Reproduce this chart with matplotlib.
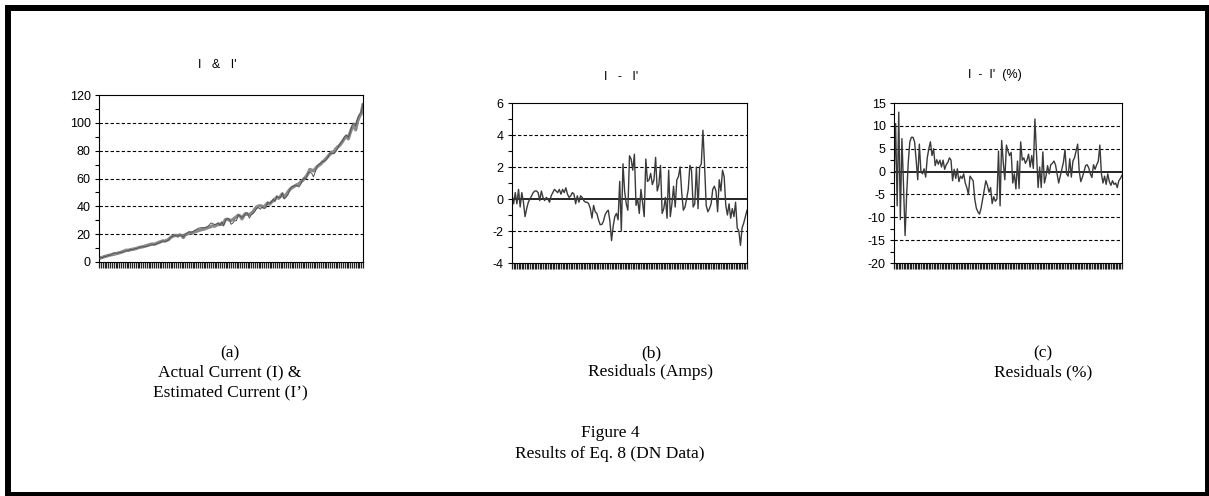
import numpy as np
import matplotlib.pyplot as plt
from matplotlib.patches import Rectangle

# actual current I (amps), one value per sample
current = [
    2.5, 3.0, 3.4, 3.9, 4.3, 4.6, 5.0, 5.3, 5.5, 5.9,
    6.2, 6.6, 7.0, 7.5, 8.0, 8.5, 8.4, 8.8, 9.1, 9.3,
    9.6, 10.0, 10.5, 10.7, 11.0, 11.4, 11.8, 12.2, 12.6, 13.0,
    12.7, 13.2, 13.8, 14.3, 14.8, 15.2, 15.0, 15.6, 16.2, 17.5,
    18.5, 18.8, 19.2, 18.6, 19.4, 19.1, 17.6, 19.5, 20.1, 20.6,
    21.0, 20.8, 21.6, 22.0, 22.5, 22.9, 23.3, 23.6, 24.0, 24.5,
    25.0, 25.4, 26.0, 25.7, 26.4, 26.9, 27.3, 27.0, 28.0, 30.5,
    30.8, 30.2, 29.8, 30.5, 31.5, 32.5, 33.6, 33.0, 31.0, 33.5,
    34.8, 34.2, 34.0, 34.9, 36.0, 38.0, 39.5, 40.2, 40.5, 40.0,
    39.4, 41.0, 42.3, 41.5, 43.0, 44.0, 45.2, 46.5, 45.8, 47.2,
    49.0, 46.5, 48.0, 50.2, 52.0, 53.2, 54.0, 54.8, 55.5, 56.0,
    57.5, 58.5, 60.0, 61.5, 63.5, 66.5, 66.0, 65.5, 67.0, 68.5,
    69.5, 70.5, 72.0, 73.0, 74.5, 76.0, 77.5, 79.0, 78.5, 81.0,
    82.5, 83.5, 85.0, 87.0, 89.0, 90.5, 88.5, 93.0, 96.5, 98.0,
    95.0, 101.0, 104.5, 106.5, 113.0,
]

# residuals I - I' (amps)
resid_amps = [
    0.3, -0.3, 0.4, -0.3, 0.6, -0.5, 0.4, -0.2, -1.1, -0.6,
    -0.2, 0.0, 0.2, 0.4, 0.5, 0.5, 0.4, -0.1, 0.5, 0.1,
    -0.1, 0.1, 0.0, -0.2, 0.2, 0.4, 0.6, 0.5, 0.4, 0.6,
    0.3, 0.6, 0.4, 0.7, 0.3, 0.1, 0.2, 0.4, 0.3, -0.3,
    0.2, -0.2, 0.2, 0.1, -0.1, -0.2, -0.2, -0.3, -0.6, -1.2,
    -0.4, -0.8, -0.9, -1.3, -1.6, -1.6, -1.4, -1.0, -0.8, -0.7,
    -1.4, -2.6, -1.7, -1.1, -0.9, -1.3, 1.1, -2.0, 2.2, 0.5,
    -0.3, -0.7, 2.7, 2.5, 1.8, 2.8, -0.4, 0.0, -0.9, 0.6,
    -0.2, -1.1, 2.5, 1.1, 1.2, 1.6, 0.9, 1.2, 2.6, 0.5,
    0.9, 2.1, -0.9, -0.6, 0.1, -1.2, 1.8, -1.1, -0.3, 0.8,
    -0.5, 1.2, 1.4, 2.0, 0.4, -0.7, -0.5, 0.0, 0.6, 2.1,
    1.8, -0.5, -0.3, 2.0, -0.6, 2.0, 2.2, 4.3, 2.1, -0.4,
    -0.8, -0.6, -0.3, 0.6, 0.8, 0.5, -0.8, 1.2, 0.5, 1.8,
    1.4, -0.4, -1.0, -0.3, -1.2, -0.6, -1.1, -0.2, -1.8, -2.0,
    -2.9, -1.8, -1.5, -1.1, -0.7,
]

# residuals in percent
resid_pct = [
    -2.0, 10.5, -7.5, 13.0, -10.5, 7.2, -3.0, -14.0, -5.0, 2.0,
    6.5, 7.5, 7.5, 6.5, 2.5, -1.8, 6.0, 0.0, -0.5, 0.6,
    -1.2, 3.0, 5.0, 6.5, 3.5, 5.0, 1.3, 2.6, 1.6, 2.5,
    1.0, 2.5, 0.5, 1.5, 2.0, 3.0, 2.5, -2.0, 0.5, -1.5,
    0.6, -2.2, -1.0, -1.5, -0.5, -2.5, -3.5, -5.0, -1.0, -1.5,
    -2.0, -6.0, -8.0, -8.8, -9.3, -8.0, -6.0, -4.0, -2.0, -3.0,
    -4.5, -3.5, -7.0, -5.5, -6.5, -6.0, 4.5, -7.5, 6.8, 2.0,
    -1.8, 5.8, 4.5, 3.5, 4.2, -2.5, -0.5, -3.8, 2.3, -3.7,
    6.5, 2.5, 3.0, 1.8, 2.5, 3.8, 1.0, 3.5, 0.7, 11.5,
    4.0, -3.5, 1.0, -3.5, 4.3, -2.5, -1.0, 1.3, -0.5, 1.5,
    1.8, 2.3, 1.5, -0.5, -2.5, -1.0, 0.5, 2.0, 4.8, -0.5,
    -1.0, 2.8, -1.2, 2.3, 3.0, 4.5, 6.0, 0.0, -2.2, -1.2,
    0.0, 1.3, 1.5, 0.8, -0.5, -1.3, 1.5, 0.5, 1.5, 2.2,
    5.8, -0.5, -2.5, -1.0, -2.8, -0.5, -2.2, -3.0, -2.0, -2.8,
    -2.5, -3.5, -2.0, -1.5, -0.8,
]

panel_titles = ["I   &   I'", "I   -   I'", "I  -  I'  (%)"]
panel_letters = ["(a)", "(b)", "(c)"]
panel_captions = ["Actual Current (I) &\nEstimated Current (I\u2019)",
                  "Residuals (Amps)", "Residuals (%)"]
fig_title = "Figure 4\nResults of Eq. 8 (DN Data)"

W, H = 1209, 496
SANS = "Liberation Sans"
SERIF = "Liberation Serif"


def box(l, t, r, b):
    return [l / W, 1 - b / H, (r - l) / W, (b - t) / H]


def setup(ax, ymin, ymax, step, n):
    ax.set_xlim(0, n - 1)
    ax.set_ylim(ymin, ymax)
    major = np.arange(ymin, ymax + step / 2, step)
    ax.set_yticks(major)
    ax.set_yticks(major[:-1] + step / 2, minor=True)
    ax.set_yticklabels([f"{v:g}" for v in major], fontfamily=SANS, fontsize=9)
    ax.set_xticks(np.arange(n))
    ax.tick_params(axis="x", length=4, width=0.9, color="#222222",
                   labelbottom=False)
    ax.tick_params(axis="y", which="both", length=3, width=0.8, pad=3)
    for v in major[1:-1]:
        if v != 0:
            ax.axhline(v, color="black", lw=0.8, ls=(0, (3, 2)), zorder=1)
    for s in ax.spines.values():
        s.set_linewidth(0.8)
        s.set_color("black")


fig = plt.figure(figsize=(W / 100, H / 100), dpi=100)
n = len(current)
x = np.arange(n)
estimated = np.array(current) - np.array(resid_amps)

ax1 = fig.add_axes(box(99, 95, 363, 262))
setup(ax1, 0, 120, 20, n)
ax1.plot(x, current, color="#8a8a8a", lw=2.4, zorder=2)
ax1.plot(x, estimated, color="#555555", lw=0.7, zorder=3)

ax2 = fig.add_axes(box(512, 103, 747, 263))
setup(ax2, -4, 6, 2, n)
ax2.axhline(0, color="black", lw=1.2, zorder=1)
ax2.plot(x, resid_amps, color="#3a3a3a", lw=1.0, zorder=2)

ax3 = fig.add_axes(box(894, 103, 1122, 263))
setup(ax3, -20, 15, 5, n)
ax3.axhline(0, color="black", lw=1.2, zorder=1)
ax3.plot(x, resid_pct, color="#3a3a3a", lw=1.0, zorder=2)

# small chart titles
for (cx, cy), t in zip([(217, 65), (621, 77), (995, 75)], panel_titles):
    fig.text(cx / W, 1 - cy / H, t, ha="center", va="center",
             fontfamily=SANS, fontsize=9)

# captions under the charts
for cx, letter, cap in zip([230, 651, 1043], panel_letters, panel_captions):
    fig.text(cx / W, 1 - 353 / H, letter, ha="center", va="center",
             fontfamily=SERIF, fontsize=12.5)
    fig.text(cx / W, 1 - 364 / H, cap, ha="center", va="top",
             fontfamily=SERIF, fontsize=12.5, linespacing=1.38)
fig.text(610 / W, 1 - 425 / H, fig_title, ha="center", va="top",
         fontfamily=SERIF, fontsize=12.5, linespacing=1.38)

# thick frame around the whole figure
fig.patches.append(Rectangle((8 / W, 1 / H), 1200 / W, 487 / H,
                             transform=fig.transFigure, fill=False,
                             edgecolor="black", lw=4.3))

fig.savefig("out.png", dpi=100)
